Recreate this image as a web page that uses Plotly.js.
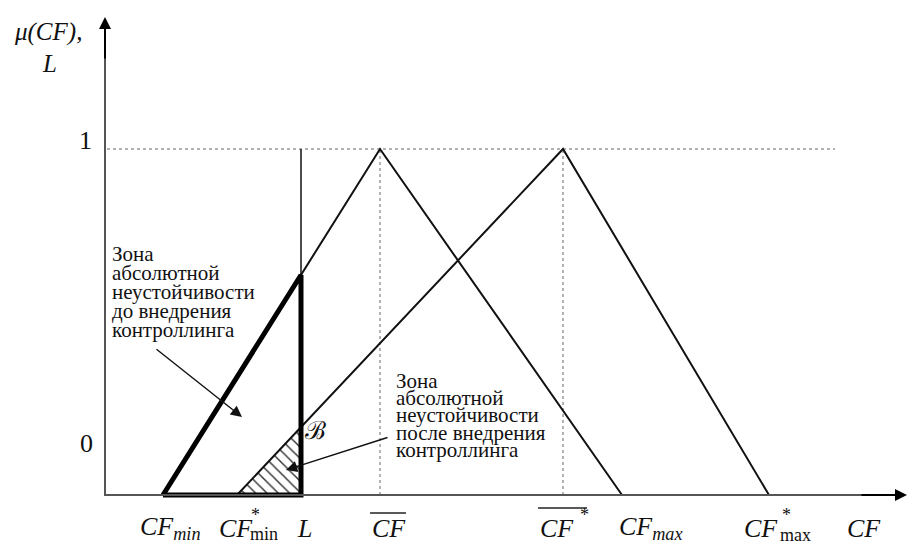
<!DOCTYPE html>
<html><head><meta charset="utf-8">
<script src="https://cdn.plot.ly/plotly-3.0.1.min.js"></script>
<style>html,body{margin:0;padding:0;background:#fff}</style>
</head><body><div id="chart" style="width:907px;height:545px"></div>
<script>
// ---- data ----
const cfX = [163, 380, 622];          // CF_min, CF-bar, CF_max
const cfStarX = [237, 563, 769];      // CF*_min, CF*-bar, CF*_max
const mu = [0, 1, 0];
const levelL = 301;                   // L
const yTickLabels = ['0', '1'];
const xTickLabels = ['<i>CF<sub>min</sub></i>', '<i>CF</i>', '<i>L</i>', '<i>CF</i>', '<i>CF</i>', '<i>CF<sub>max</sub></i>', '<i>CF</i>', '<i>CF</i>'];
const zoneBeforeText = ['Зона', 'абсолютной', 'неустойчивости', 'до внедрения', 'контроллинга'];
const zoneAfterText = ['Зона', 'абсолютной', 'неустойчивости', 'после внедрения', 'контроллинга'];
const yAxisTitle = ['<i>μ(CF),</i>', '<i>L</i>'];

// rising edge of a triangle at x
function rising(xs, x) { return (x - xs[0]) / (xs[1] - xs[0]); }
const muL = rising(cfX, levelL);
const muLStar = rising(cfStarX, levelL);

// pixel helper for layout placement
const PY0 = 495, PY1 = 149, U = PY0 - PY1;
const Y = p => (PY0 - p) / U;

const FONT = 'Liberation Serif, Times New Roman, serif';
const TXT = '#111';

const traces = [
  // dotted guide lines
  {x: [107, 835], y: [1, 1], mode: 'lines', line: {color: '#666', width: 1, dash: 'dot'}},
  {x: [cfX[1], cfX[1]], y: [0, 1], mode: 'lines', line: {color: '#666', width: 1, dash: 'dot'}},
  {x: [cfStarX[1], cfStarX[1]], y: [0, 1], mode: 'lines', line: {color: '#666', width: 1, dash: 'dot'}},
  // hatched zone after controlling
  {x: [cfStarX[0], levelL, levelL, cfStarX[0]], y: [0, muLStar, 0, 0], mode: 'lines', fill: 'toself',
   fillcolor: 'rgba(0,0,0,0)', line: {width: 0, color: 'rgba(0,0,0,0)'},
   fillpattern: {shape: '\\', size: 8, solidity: 0.18, fgcolor: '#333', bgcolor: 'rgba(255,255,255,0)'}},
  // triangles
  {x: cfX, y: mu, mode: 'lines', line: {color: '#111', width: 2}},
  {x: cfStarX, y: mu, mode: 'lines', line: {color: '#111', width: 2}},
  // L vertical (thin)
  {x: [levelL, levelL], y: [0, 1], mode: 'lines', line: {color: '#111', width: 1.5}},
  // thick zone before controlling
  {x: [cfX[0], levelL, levelL, cfX[0]], y: [0, muL, 0, 0], mode: 'lines', line: {color: '#000', width: 5}}
];

const ann = [];
// axis arrowheads
ann.push({x: 105, y: Y(17), ax: 105, ay: Y(60), axref: 'x', ayref: 'y', text: '', showarrow: true,
  arrowhead: 2, arrowsize: 1.2, arrowwidth: 2, arrowcolor: '#000'});
ann.push({x: 907, y: 0, ax: 860, ay: 0, axref: 'x', ayref: 'y', text: '', showarrow: true,
  arrowhead: 2, arrowsize: 1.2, arrowwidth: 2, arrowcolor: '#000'});
// text arrows
ann.push({x: 242, y: Y(417), ax: 155, ay: Y(348), axref: 'x', ayref: 'y', text: '', showarrow: true,
  arrowhead: 2, arrowsize: 1.6, arrowwidth: 1.4, arrowcolor: '#111'});
ann.push({x: 286, y: Y(470), ax: 389, ay: Y(437), axref: 'x', ayref: 'y', text: '', showarrow: true,
  arrowhead: 2, arrowsize: 1.6, arrowwidth: 1.4, arrowcolor: '#111'});

// zone texts
const beforeY = [254, 273, 292, 311, 330];
zoneBeforeText.forEach((t, i) => ann.push({x: 110, y: Y(beforeY[i]), text: t, showarrow: false,
  xanchor: 'left', yanchor: 'middle', font: {family: FONT, size: 21, color: TXT}}));
const afterY = [381, 398, 415, 433, 450];
zoneAfterText.forEach((t, i) => ann.push({x: 394, y: Y(afterY[i]), text: t, showarrow: false,
  xanchor: 'left', yanchor: 'middle', font: {family: FONT, size: 21, color: TXT}}));

// B label
ann.push({x: 315, y: Y(430), text: 'ℬ', showarrow: false, font: {family: FONT, size: 25, color: TXT}});

// y-axis labels
ann.push({x: 48, y: Y(32), text: yAxisTitle[0], showarrow: false, font: {family: FONT, size: 25, color: TXT}});
ann.push({x: 49, y: Y(63), text: yAxisTitle[1], showarrow: false, font: {family: FONT, size: 25, color: TXT}});
ann.push({x: 86, y: Y(443), text: yTickLabels[0], showarrow: false, font: {family: FONT, size: 26, color: TXT}});
ann.push({x: 85, y: Y(140), text: yTickLabels[1], showarrow: false, font: {family: FONT, size: 26, color: TXT}});

// x labels
const xl = [138, 217, 295, 370, 538, 617, 742, 845];
xTickLabels.forEach((t, i) => ann.push({x: xl[i], y: Y(528), text: t, showarrow: false, xanchor: 'left',
  yanchor: 'middle', font: {family: FONT, size: 26, color: TXT}}));
// stars and upright subscripts
ann.push({x: 249, y: Y(515), text: '*', showarrow: false, xanchor: 'left', font: {family: FONT, size: 18, color: TXT}});
ann.push({x: 248, y: Y(534), text: 'min', showarrow: false, xanchor: 'left', font: {family: FONT, size: 18, color: TXT}});
ann.push({x: 578, y: Y(515), text: '*', showarrow: false, xanchor: 'left', font: {family: FONT, size: 18, color: TXT}});
ann.push({x: 780, y: Y(515), text: '*', showarrow: false, xanchor: 'left', font: {family: FONT, size: 18, color: TXT}});
ann.push({x: 778, y: Y(535), text: 'max', showarrow: false, xanchor: 'left', font: {family: FONT, size: 18, color: TXT}});

const shapes = [
  {type: 'line', x0: 105, x1: 105, y0: Y(496), y1: Y(40), line: {color: '#555', width: 2}},
  {type: 'line', x0: 104, x1: 880, y0: 0, y1: 0, line: {color: '#555', width: 2}},
  // overlines
  {type: 'line', x0: 370, x1: 406, y0: Y(513), y1: Y(513), line: {color: '#222', width: 1.3}},
  {type: 'line', x0: 538, x1: 587, y0: Y(508), y1: Y(508), line: {color: '#222', width: 1.3}}
];

const layout = {
  width: 907, height: 545,
  margin: {l: 0, r: 0, t: 0, b: 0},
  paper_bgcolor: '#fff', plot_bgcolor: '#fff',
  showlegend: false,
  xaxis: {range: [0, 907], visible: false, fixedrange: true},
  yaxis: {range: [Y(545), Y(0)], visible: false, fixedrange: true},
  annotations: ann,
  shapes: shapes
};

Plotly.newPlot('chart', traces, layout, {displayModeBar: false, staticPlot: true});
</script>
</body></html>
